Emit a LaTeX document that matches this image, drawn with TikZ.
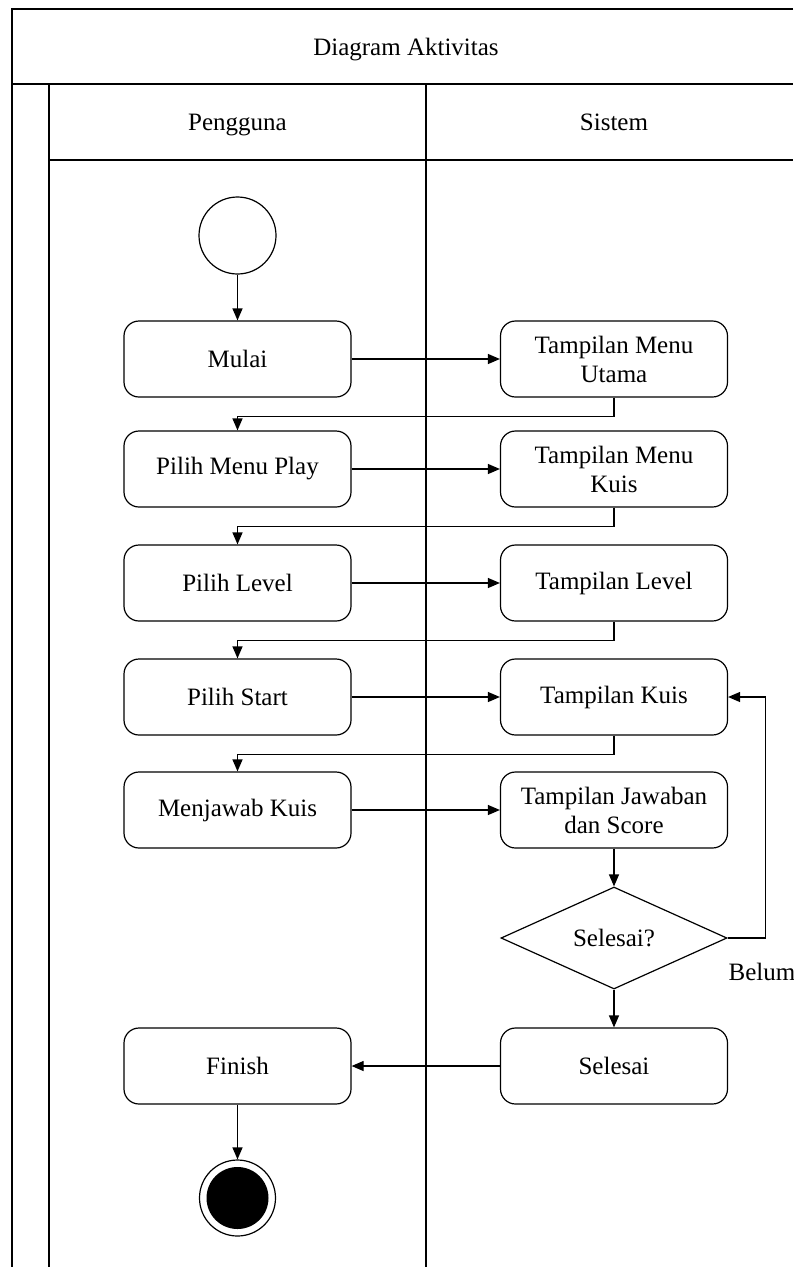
\documentclass[tikz,border=0pt]{standalone}
\usepackage{fontspec}
\setmainfont{Liberation Serif}
\usetikzlibrary{arrows.meta,shapes.geometric}
\newcommand{\diafont}{\fontsize{25}{29}\selectfont}
\begin{document}
\begin{tikzpicture}[x=1pt,y=-1pt,
  frame/.style={line width=1.8pt},
  act/.style={draw,line width=1.2pt,rounded corners=15pt,minimum width=227pt,minimum height=76pt,align=center,inner sep=2pt,font=\diafont},
  lbl/.style={font=\diafont,inner sep=0pt,anchor=base},
  flow/.style={line width=1.2pt,-{Triangle[length=12pt,width=10pt]}},
  link/.style={line width=1.2pt}]
\useasboundingbox (0,0) rectangle (793,1267);
% swimlane frame
\draw[frame] (793,9) -- (12,9) -- (12,1267);
\draw[frame] (12,84) -- (793,84);
\draw[frame] (49,84) -- (49,1267);
\draw[frame] (49,160) -- (793,160);
\draw[frame] (426,84) -- (426,1267);
% headers
\node[lbl] (title) at (406,55) {Diagram Aktivitas};
\node[lbl] (peng) at (237.5,130) {Pengguna};
\node[lbl] (sis) at (614,130) {Sistem};
% nodes
\node[circle,draw,line width=1.2pt,minimum size=77pt,inner sep=0pt] (start) at (237.5,235.5) {};
\node[act] (mulai) at (237.5,359) {Mulai};
\node[act] (tmu) at (614,359) {Tampilan Menu\\Utama};
\node[act] (pmp) at (237.5,469) {Pilih Menu Play};
\node[act] (tmk) at (614,469) {Tampilan Menu\\Kuis};
\node[act] (pl) at (237.5,583) {Pilih Level};
\node[act] (tl) at (614,583) {Tampilan Level};
\node[act] (ps) at (237.5,697) {Pilih Start};
\node[act] (tk) at (614,697) {Tampilan Kuis};
\node[act] (mk) at (237.5,810) {Menjawab Kuis};
\node[act] (tjs) at (614,810) {Tampilan Jawaban\\dan Score};
\node[diamond,draw,line width=1.2pt,minimum width=226pt,minimum height=102pt,aspect=2.2,inner sep=0pt,font=\diafont] (dec) at (614,938) {Selesai?};
\node[act] (sel) at (614,1066) {Selesai};
\node[act] (fin) at (237.5,1066) {Finish};
\node[circle,draw,line width=1.2pt,minimum size=76pt,inner sep=0pt,
  path picture={\fill (path picture bounding box.center) circle (31pt);}] (end) at (237.5,1198) {};
\node[lbl] (belum) at (762,980) {Belum};
% connectors
\draw[flow] (start) -- (mulai);
\draw[flow] (mulai) -- (tmu);
\draw[flow] (tmu.south) -- ++(0,19) -| (pmp.north);
\draw[flow] (pmp) -- (tmk);
\draw[flow] (tmk.south) -- ++(0,19) -| (pl.north);
\draw[flow] (pl) -- (tl);
\draw[flow] (tl.south) -- ++(0,19) -| (ps.north);
\draw[flow] (ps) -- (tk);
\draw[flow] (tk.south) -- ++(0,19) -| (mk.north);
\draw[flow] (mk) -- (tjs);
\draw[flow] (tjs) -- (dec);
\draw[flow] (dec.east) -- ++(38,0) |- (tk.east);
\draw[flow] (dec) -- (sel);
\draw[flow] (sel) -- (fin);
\draw[flow] (fin) -- (end);
\end{tikzpicture}
\end{document}
